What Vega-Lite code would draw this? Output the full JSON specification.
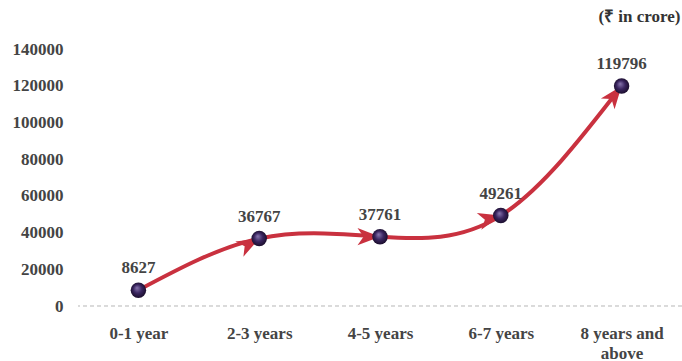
{
  "$schema": "https://vega.github.io/schema/vega-lite/v6.json",
  "width": 604,
  "height": 257,
  "autosize": {"type": "none"},
  "padding": {"left": 78, "top": 49, "right": 0, "bottom": 55},
  "background": "white",
  "config": {"view": {"stroke": null}, "font": "Liberation Serif"},
  "title": {"text": "(₹ in crore)", "anchor": "end", "orient": "top", "offset": 14, "dx": -2, "fontSize": 17, "font": "Liberation Serif", "fontWeight": "bold", "color": "#333333"},
  "data": {"values": [
    {"age": "0-1 year", "value": 8627},
    {"age": "2-3 years", "value": 36767},
    {"age": "4-5 years", "value": 37761},
    {"age": "6-7 years", "value": 49261},
    {"age": "8 years and above", "value": 119796}
  ]},
  "encoding": {
    "x": {"field": "age", "type": "nominal", "sort": null,
      "scale": {"type": "point", "padding": 0.5},
      "axis": {"title": null, "domain": false, "ticks": false, "labelAngle": 0, "labelPadding": 19,
        "labelFont": "Liberation Serif", "labelFontWeight": "bold", "labelFontSize": 17, "labelColor": "#444444", "labelLineHeight": 20,
        "labelExpr": "datum.label == '8 years and above' ? ['8 years and', 'above'] : datum.label"}},
    "y": {"field": "value", "type": "quantitative",
      "scale": {"domain": [0, 140000], "nice": false},
      "axis": {"title": null, "domain": false, "ticks": false, "grid": false, "values": [0, 20000, 40000, 60000, 80000, 100000, 120000, 140000],
        "format": "d", "labelPadding": 15, "labelFont": "Liberation Serif", "labelFontWeight": "bold", "labelFontSize": 17, "labelColor": "#444444"}}
  },
  "layer": [
    {"mark": {"type": "rule", "color": "#d9d9d9", "strokeDash": [4, 3], "strokeWidth": 1},
     "encoding": {"x": null, "y": {"datum": 0, "type": "quantitative"}}},
    {"mark": {"type": "line", "interpolate": "natural", "color": "#c9313f", "strokeWidth": 4}},
    {"mark": {"type": "point", "filled": true, "color": "#c9313f", "opacity": 1, "size": 300,
       "shape": "M0,0 L-2.6,-1 L-1.9,0 L-2.6,1 Z"},
     "encoding": {
       "angle": {"condition": [
         {"test": "datum.age === '2-3 years'", "value": -28},
         {"test": "datum.age === '4-5 years'", "value": 0},
         {"test": "datum.age === '6-7 years'", "value": -15},
         {"test": "datum.age === '8 years and above'", "value": -52}
       ], "value": 0},
       "opacity": {"condition": {"test": "datum.age === '0-1 year'", "value": 0}, "value": 1}
     }},
    {"mark": {"type": "point", "filled": true, "size": 240, "opacity": 1,
       "color": {"gradient": "radial", "x1": 0.4, "y1": 0.35, "r1": 0, "x2": 0.5, "y2": 0.5, "r2": 0.55,
         "stops": [{"offset": 0, "color": "#8a78b0"}, {"offset": 0.5, "color": "#3a2560"}, {"offset": 1, "color": "#160a24"}]}}},
    {"mark": {"type": "text", "dy": -22, "font": "Liberation Serif", "fontWeight": "bold", "fontSize": 17, "color": "#444444"},
     "encoding": {"text": {"field": "value", "type": "quantitative", "format": "d"}}}
  ]
}
